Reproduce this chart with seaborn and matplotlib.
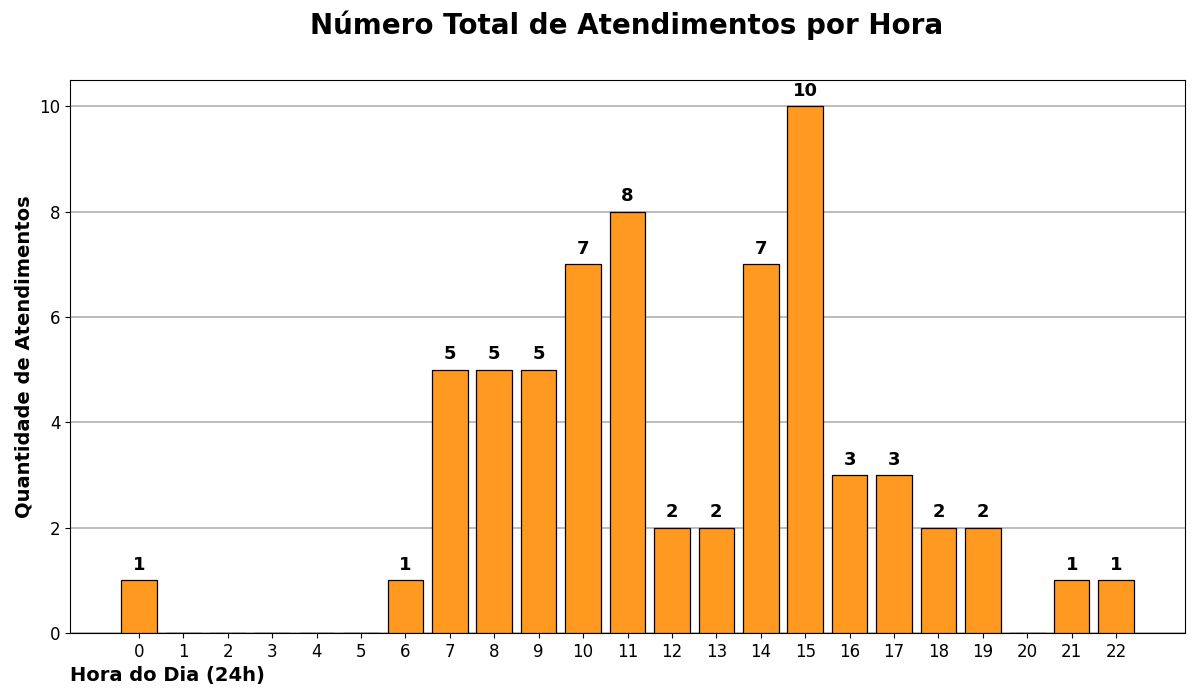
import matplotlib
matplotlib.use("Agg")
import matplotlib.pyplot as plt
import seaborn as sns
import pandas as pd

hours = list(range(23))
counts = [1, 0, 0, 0, 0, 0, 1, 5, 5, 5, 7, 8, 2, 2, 7, 10, 3, 3, 2, 2, 0, 1, 1]

df = pd.DataFrame({"hora": [str(h) for h in hours], "qtd": counts})

fig = plt.figure(figsize=(12, 7), dpi=100)
ax = fig.add_axes([70/1200, 1-633/700, 1115/1200, 553/700])
sns.barplot(data=df, x="hora", y="qtd", order=[str(h) for h in hours],
            color="#ff991f", saturation=1, edgecolor="black", linewidth=0.9,
            width=0.8, ax=ax, zorder=3)
ax.set_xlim(-1.55, 23.55)
ax.set_ylim(0, 10.5)
ax.grid(axis="y", color="#b0b0b0", linewidth=1.2, zorder=0)
ax.set_axisbelow(True)
for i, v in enumerate(counts):
    if v > 0:
        ax.text(i, v + 0.12, str(v), ha="center", va="bottom", fontsize=13, fontweight="bold")
ax.tick_params(labelsize=12)
ax.set_ylabel("Quantidade de Atendimentos", fontsize=14, fontweight="bold")
ax.set_xlabel("Hora do Dia (24h)", fontsize=14, fontweight="bold", loc="left")
fig.suptitle("Número Total de Atendimentos por Hora", fontsize=20, fontweight="bold", x=627/1200, y=0.985)
fig.savefig("out.png", dpi=100)
